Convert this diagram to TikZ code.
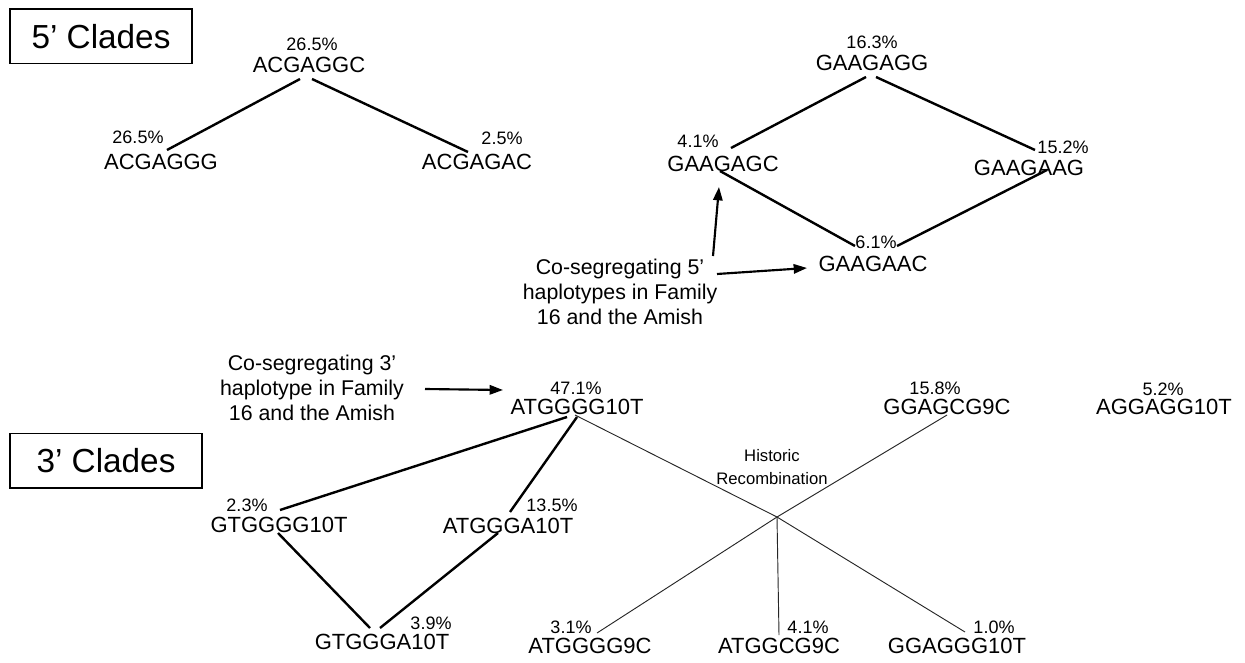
\documentclass[tikz,border=0pt]{standalone}
\usepackage{fontspec}
\setmainfont{Liberation Sans}
\usetikzlibrary{arrows.meta,calc}
\begin{document}
\begin{tikzpicture}[x=0.75pt,y=-0.75pt,
  hap/.style={inner sep=0pt,font=\fontsize{16.5}{18}\selectfont},
  pct/.style={inner sep=0pt,font=\fontsize{13.5}{15}\selectfont},
  clade/.style={draw,line width=1pt,inner sep=0pt,minimum height=41pt,font=\fontsize{25}{28}\selectfont},
  note/.style={inner sep=0pt,align=center,font=\fontsize{16}{19}\selectfont},
  smallnote/.style={inner sep=0pt,align=center,font=\fontsize{12.5}{17}\selectfont},
  edge/.style={line width=1.8pt},
  thinedge/.style={line width=0.7pt,black!85},
  arr/.style={line width=1.6pt,-{Triangle[length=10pt,width=7pt]}}]
\useasboundingbox (0,0) rectangle (1245,663);

% ---------- 5' clades ----------
\node[clade,minimum width=136.5pt] (clade5) at (101,36.5) {5’ Clades};
\node[pct] (p1) at (312,44) {26.5\%};
\node[hap] (ACGAGGC) at (309,65) {ACGAGGC};
\node[pct] (p2) at (138,137) {26.5\%};
\node[hap] (ACGAGGG) at (161,162) {ACGAGGG};
\node[pct] (p3) at (502,138) {2.5\%};
\node[hap] (ACGAGAC) at (477,162) {ACGAGAC};

\node[pct] (p4) at (872,42) {16.3\%};
\node[hap] (GAAGAGG) at (872,63) {GAAGAGG};
\node[pct] (p5) at (698,141) {4.1\%};
\node[hap] (GAAGAGC) at (723,164) {GAAGAGC};
\node[pct] (p6) at (1063,147) {15.2\%};
\node[hap] (GAAGAAG) at (1029,168) {GAAGAAG};
\node[pct] (p7) at (876,242) {6.1\%};
\node[hap] (GAAGAAC) at (873,264) {GAAGAAC};
\node[note] (cs5) at (620,292) {Co-segregating 5’\\haplotypes in Family\\16 and the Amish};

\draw[edge] ($(ACGAGGC)+(-9,14)$) -- ($(ACGAGGG)+(6,-12)$);
\draw[edge] ($(ACGAGGC)+(3,14)$) -- ($(ACGAGAC)+(-9,-10)$);
\draw[edge] ($(GAAGAGG)+(-6,14)$) -- ($(GAAGAGC)+(8,-16)$);
\draw[edge] ($(GAAGAGG)+(4,14)$) -- ($(GAAGAAG)+(6,-18)$);
\draw[edge] ($(GAAGAGC)+(-3,7)$) -- ($(GAAGAAC)+(-18,-18)$);
\draw[edge] ($(GAAGAAG)+(18,2)$) -- ($(GAAGAAC)+(24,-18)$);
\draw[arr] ($(cs5)+(93,-36)$) -- ($(GAAGAGC)+(-4,23)$);
\draw[arr] ($(cs5)+(97,-18)$) -- ($(GAAGAAC)+(-66,4)$);

% ---------- 3' clades ----------
\node[note] (cs3) at (312,388) {Co-segregating 3’\\haplotype in Family\\16 and the Amish};
\node[clade,minimum width=144pt] (clade3) at (106,460.5) {3’ Clades};
\node[pct] (p8) at (576,388) {47.1\%};
\node[hap] (ATGGGG10T) at (577,407) {ATGGGG10T};
\node[pct] (p9) at (935,388) {15.8\%};
\node[hap] (GGAGCG9C) at (947,407) {GGAGCG9C};
\node[pct] (p10) at (1163,389) {5.2\%};
\node[hap] (AGGAGG10T) at (1164,407) {AGGAGG10T};
\node[smallnote] (hist) at (772,467) {Historic\\Recombination};
\node[pct] (p11) at (247,505) {2.3\%};
\node[hap] (GTGGGG10T) at (279,525) {GTGGGG10T};
\node[pct] (p12) at (552,505) {13.5\%};
\node[hap] (ATGGGA10T) at (508,526) {ATGGGA10T};
\node[pct] (p13) at (431,623) {3.9\%};
\node[hap] (GTGGGA10T) at (382,642) {GTGGGA10T};
\node[pct] (p14) at (571,627) {3.1\%};
\node[hap] (ATGGGG9C) at (590,646) {ATGGGG9C};
\node[pct] (p15) at (808,627) {4.1\%};
\node[hap] (ATGGCG9C) at (779,646) {ATGGCG9C};
\node[pct] (p16) at (994,627) {1.0\%};
\node[hap] (GGAGGG10T) at (957,646) {GGAGGG10T};
\coordinate (X) at (777,517);

\draw[arr] ($(cs3)+(113,1)$) -- ($(ATGGGG10T)+(-74,-17)$);
\draw[edge] ($(ATGGGG10T)+(-10,10)$) -- ($(GTGGGG10T)+(1,-15)$);
\draw[edge] ($(ATGGGG10T)+(0,10)$) -- ($(ATGGGA10T)+(2,-14)$);
\draw[edge] ($(GTGGGG10T)+(-1,8)$) -- ($(GTGGGA10T)+(-12,-14)$);
\draw[edge] ($(ATGGGA10T)+(-10,7)$) -- ($(GTGGGA10T)+(-2,-14)$);
\draw[thinedge] ($(ATGGGG10T)+(-2,8)$) -- (X) -- ($(GGAGGG10T)+(8,-14)$);
\draw[thinedge] ($(GGAGCG9C)+(0,8)$) -- (X) -- ($(ATGGGG9C)+(7,-13)$);
\draw[thinedge] (X) -- ($(ATGGCG9C)+(0,-11)$);
\end{tikzpicture}
\end{document}
